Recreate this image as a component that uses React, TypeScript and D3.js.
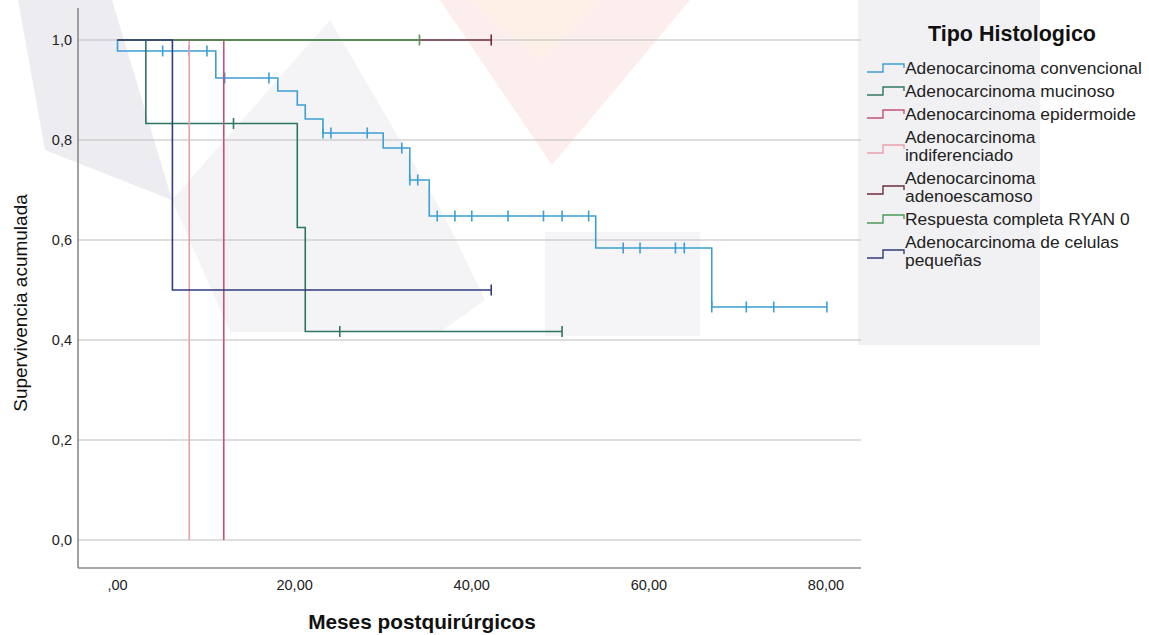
import React from "react";
import * as d3 from "d3";

// Kaplan-Meier curves (months, cumulative survival)
const seriesNames = [
  "Adenocarcinoma convencional",
  "Adenocarcinoma mucinoso",
  "Adenocarcinoma epidermoide",
  "Adenocarcinoma indiferenciado",
  "Adenocarcinoma adenoescamoso",
  "Respuesta completa RYAN 0",
  "Adenocarcinoma de celulas pequeñas",
];

const convTimes = [0, 11.1, 18.1, 20.3, 21.2, 23.2, 30.0, 33.0, 35.2, 54.0, 67.1];
const convSurv = [0.978, 0.924, 0.898, 0.87, 0.842, 0.814, 0.784, 0.72, 0.648, 0.584, 0.466];
const convCensor = [5.1, 8.1, 10.1, 12.1, 17.1, 23.2, 24.1, 28.2, 32.1, 33.0, 33.9, 36.1, 38.1, 40.0, 44.1, 48.1, 50.2, 53.2, 57.1, 59.0, 63.0, 64.0, 67.1, 71.0, 74.1, 80.1];

const mucTimes = [3.2, 20.3, 21.2];
const mucSurv = [0.833, 0.625, 0.417];
const mucCensor = [13.1, 25.1, 50.2];

const epiTimes = [12.0];
const epiSurv = [0];
const epiCensor: number[] = [];

const indTimes = [8.1];
const indSurv = [0];
const indCensor: number[] = [];

const escTimes: number[] = [];
const escSurv: number[] = [];
const escCensor = [42.2];

const ryanTimes: number[] = [];
const ryanSurv: number[] = [];
const ryanCensor = [34.1];

const pequeTimes = [6.2];
const pequeSurv = [0.5];
const pequeCensor = [42.2];

const endTimes = [80.1, 50.2, 12.0, 8.1, 42.2, 34.1, 42.2];

const xTicks = [0, 20, 40, 60, 80];
const xTickLabels = [",00", "20,00", "40,00", "60,00", "80,00"];
const yTicks = [0, 0.2, 0.4, 0.6, 0.8, 1.0];
const yTickLabels = ["0,0", "0,2", "0,4", "0,6", "0,8", "1,0"];

const colors = ["#3d9fd3", "#2f7566", "#c4517c", "#eaa0aa", "#6e2c3c", "#4b9a57", "#2e3d7c"];

const allTimes = [convTimes, mucTimes, epiTimes, indTimes, escTimes, ryanTimes, pequeTimes];
const allSurv = [convSurv, mucSurv, epiSurv, indSurv, escSurv, ryanSurv, pequeSurv];
const allCensor = [convCensor, mucCensor, epiCensor, indCensor, escCensor, ryanCensor, pequeCensor];

const font = "'Liberation Sans', Arial, sans-serif";

const survAt = (times: number[], surv: number[], t: number) => {
  let s = 1;
  times.forEach((tt, i) => {
    if (tt <= t) s = surv[i];
  });
  return s;
};

const App = () => {
  const width = 1149;
  const height = 635;
  const plotLeft = 78;
  const plotRight = 861;
  const axisY = 568;

  const x = d3.scaleLinear().domain([0, 80]).range([117.5, 826]);
  const y = d3.scaleLinear().domain([0, 1]).range([540, 40]);

  const line = d3
    .line<[number, number]>()
    .x((d) => x(d[0]))
    .y((d) => y(d[1]))
    .curve(d3.curveStepAfter);

  const series = seriesNames.map((name, i) => {
    const times = allTimes[i];
    const surv = allSurv[i];
    const pts: [number, number][] = [[0, 1]];
    times.forEach((t, j) => pts.push([t, surv[j]]));
    pts.push([endTimes[i], surv.length ? surv[surv.length - 1] : 1]);
    const censors = allCensor[i].map((t) => [t, survAt(times, surv, t)]);
    return { name, color: colors[i], path: line(pts), censors };
  });

  // legend (labels wrap like the SPSS legend)
  const legendLines = [
    ["Adenocarcinoma convencional"],
    ["Adenocarcinoma mucinoso"],
    ["Adenocarcinoma epidermoide"],
    ["Adenocarcinoma", "indiferenciado"],
    ["Adenocarcinoma", "adenoescamoso"],
    ["Respuesta completa RYAN 0"],
    ["Adenocarcinoma de celulas", "pequeñas"],
  ];
  const lineGap = 18;
  let ly = 68;
  const legendItems = legendLines.map((lines, i) => {
    const top = ly;
    ly += 23 + (lines.length - 1) * lineGap;
    const mid = top + ((lines.length - 1) * lineGap) / 2 + (lines.length > 1 ? 3 : 0);
    return { lines, top, mid, color: colors[i] };
  });

  return (
    <svg
      width={width}
      height={height}
      style={{ position: "absolute", left: 0, top: 0, background: "#fff" }}
    >
      {/* faint watermark shapes */}
      <g>
        <rect x={858} y={0} width={182} height={345} fill="#f1f1f4" />
        <polygon points="18,0 112,0 172,200 45,150" fill="#ededf1" />
        <polygon points="172,200 330,20 445,217 485,300 440,332 230,332" fill="#f4f4f7" />
        <polygon points="545,232 700,232 700,336 545,336" fill="#f5f5f7" />
        <polygon points="440,0 690,0 552,165" fill="#fdeeee" />
        <polygon points="470,0 600,0 540,60" fill="#fdf1e7" />
      </g>

      {/* grid */}
      {yTicks.map((t) => (
        <line key={t} x1={plotLeft} x2={plotRight} y1={y(t)} y2={y(t)} stroke="#bdbdbd" strokeWidth={1.2} />
      ))}

      {/* axes */}
      <line x1={plotLeft} x2={plotLeft} y1={8} y2={axisY} stroke="#8a8a8a" strokeWidth={1.6} />
      <line x1={plotLeft} x2={plotRight} y1={axisY} y2={axisY} stroke="#8a8a8a" strokeWidth={1.6} />

      {yTicks.map((t, i) => (
        <text key={t} x={72} y={y(t) + 5} textAnchor="end" fontFamily={font} fontSize={14.5} fill="#222">
          {yTickLabels[i]}
        </text>
      ))}
      {xTicks.map((t, i) => (
        <text key={t} x={x(t)} y={590} textAnchor="middle" fontFamily={font} fontSize={14.5} fill="#222">
          {xTickLabels[i]}
        </text>
      ))}

      <text
        transform="translate(27,303) rotate(-90)"
        textAnchor="middle"
        fontFamily={font}
        fontSize={19}
        fill="#111"
      >
        Supervivencia acumulada
      </text>
      <text x={422} y={629} textAnchor="middle" fontFamily={font} fontSize={20.8} fontWeight="bold" fill="#111">
        Meses postquirúrgicos
      </text>

      {/* curves */}
      {series.map((s) => (
        <g key={s.name}>
          <path d={s.path ?? ""} fill="none" stroke={s.color} strokeWidth={1.6} />
          {s.censors.map(([t, v], j) => (
            <line key={j} x1={x(t)} x2={x(t)} y1={y(v) - 5.5} y2={y(v) + 5.5} stroke={s.color} strokeWidth={1.6} />
          ))}
        </g>
      ))}

      {/* legend */}
      <text x={1012} y={41} textAnchor="middle" fontFamily={font} fontSize={21.5} fontWeight="bold" fill="#111">
        Tipo Histologico
      </text>
      {legendItems.map((it) => (
        <g key={it.lines.join(" ")}>
          <path
            d={`M867,${it.mid + 4} H883 V${it.mid - 4} H904 V${it.mid}`}
            fill="none"
            stroke={it.color}
            strokeWidth={1.4}
          />
          {it.lines.map((l, k) => (
            <text key={k} x={905} y={it.top + k * lineGap + 6} fontFamily={font} fontSize={17.4} fill="#222">
              {l}
            </text>
          ))}
        </g>
      ))}
    </svg>
  );
};

export default App;
